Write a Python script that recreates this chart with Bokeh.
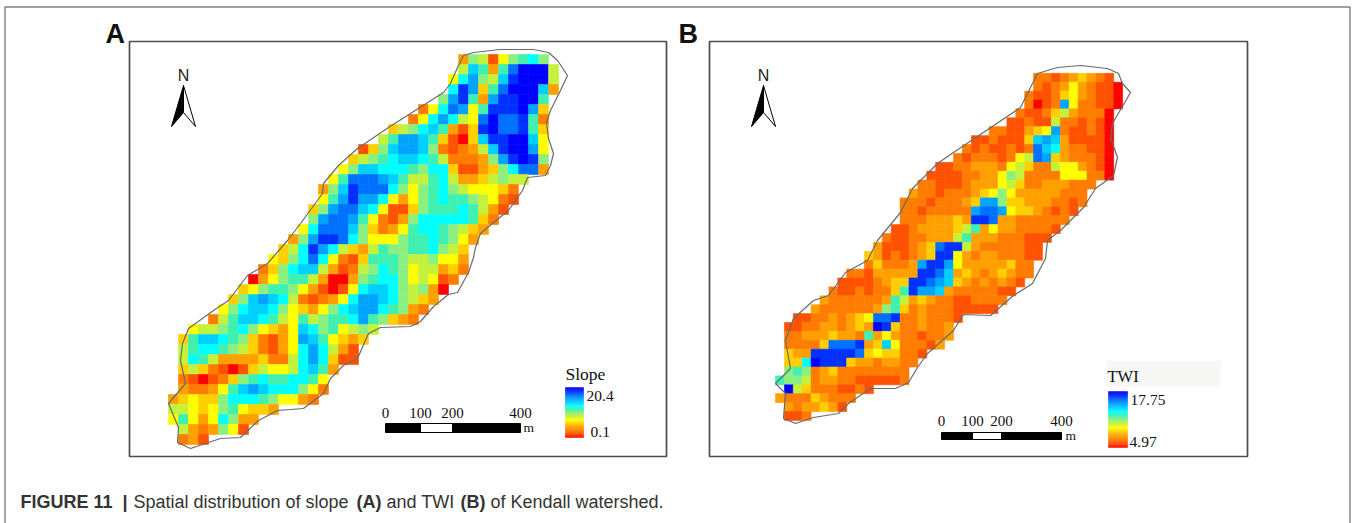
from bokeh.plotting import figure
from bokeh.models import ColumnDataSource, LinearColorMapper
from bokeh.embed import file_html
from bokeh.resources import INLINE
from bokeh.core.properties import value

# class colours, low (red) to high (blue)
ramp = ["#ff0000", "#ff5200", "#ff7c00", "#ffa000", "#ffcf00", "#ffff00", "#c4f23c", "#8cf080",
        "#40f0b0", "#00ffff", "#00d0ff", "#00a4ff", "#0070ff", "#0030ff", "#0000ff"]

slope_starts = [29,29,28,28,27,25,24,22,21,19,18,17,16,15,15,14,14,13,12,11,10,9,8,7,6,5,4,2,1,1,1,1,1,1,0,0,0,1,1]
slope_rows = ["376157897","6a838ceee6","59b76adeee6","9db48ceeea3","7bd83bddee8","259cb58dddeb4",
 "259b965ceccd82","4679a8314deccd84","68bba84104addeea5","147abba721236adeeb5","46789aa98622237bded7",
 "57aa99987994113479cc3","58cccba8668963346766","37adccc9757897655542","58bdbb95357898876521",
 "47bcca95114788898631","7bccb85213799999842","59ccca7423589987643","37bddc9755578898753",
 "469db96436877889764","5479c952148887667553","2479aa631267987566342","035788630037899756512",
 "4578875310159aa976730","47aba96212359bba97643","579aa97543579abb98732","268aa9865867889b87432",
 "56678975435a9785676","48aa98742135ba85434","6899876421359b9631","6986333342269b9411",
 "4642101465569a83","210124789889985","322358aba999752","345447999875532","66545785443",
 "585359733","6323751","231"]

twi_starts = [29,29,28,28,27,26,24,22,21,20,18,17,16,15,14,14,14,13,12,11,10,10,8,7,6,5,4,2,1,1,1,1,1,1,0,1,0,1,1]
twi_rows = ["221234321","2123532110","21124532110","2012b522110","21124632220","112116221210",
 "2211345b211210","1121114aba311110","21211212ca9322110","212221256cb4322210","11223332564226553210",
 "111122335762222555220","22111233356422333222","32212223457533333222","222122234bb7443332212",
 "22122222bccb54432121","22233343ddc33222222","1123333468353322221","2112233368333222111",
 "3111234cdd632222211","43121234dd5323322211","242223bddb533333422","22133333ddca343234322",
 "11112344ddcba43232321","211212248dbba32222211","322222238634322112222","322222237842322211111",
 "112232345ccd2232221","1122332343ed4223223","2233343328353221223","22224cccd34a522213",
 "433dddddc4544221","449eddd43323322","78723422222222","877623322111112","e642221121",
 "322243222","3233431","112"]

slope_outline_x = [463,473,500,533,548,557,567,560,550,546,548,553,550,545,527,522,508,493,480,475,473,468,457,448,433,420,410,380,368,357,343,330,323,303,277,258,240,220,190,177,178,168,185,180,182,188,213,228,247,267,287,300,322,323,338,357,388,443,450,457,463]
slope_outline_y = [55,52,49,49,52,60,75,90,110,122,138,153,165,175,177,190,210,222,233,247,257,272,292,294,306,321,326,327,333,358,365,378,393,408,410,420,437,438,448,442,427,403,383,360,343,328,310,300,275,263,240,223,193,183,165,148,127,92,83,67,55]
twi_outline_x = [1037,1057,1080,1107,1118,1122,1130,1112,1110,1117,1113,1095,1083,1060,1047,1045,1032,1013,990,963,953,927,917,908,895,870,848,838,813,795,783,785,775,790,785,793,813,828,845,867,877,900,912,937,953,1020,1027,1037]
twi_outline_y = [73,67,65,68,73,83,92,123,137,157,175,188,207,230,240,258,283,295,315,314,330,353,367,382,388,388,403,413,417,423,418,393,383,368,340,318,300,295,272,260,240,212,188,163,152,107,93,73]

scale_labels = ["0", "100", "200", "400"]
slope_limits = ["20.4", "0.1"]
twi_limits = ["17.75", "4.97"]

p = figure(width=1363, height=531, x_range=(-8, 1355), y_range=(523, -8), output_backend="svg",
           toolbar_location=None, min_border=0, outline_line_color=None, margin=(-8, -8, -8, -8))
p.axis.visible = False
p.grid.visible = False

mapper = LinearColorMapper(palette=ramp, low=-0.5, high=14.5)

def raster(starts, rows, x0, y0, d):
    L, R, T, B, V = [], [], [], [], []
    for r, (s, row) in enumerate(zip(starts, rows)):
        for i, ch in enumerate(row):
            c = s + i
            L.append(x0 + c * d); R.append(x0 + (c + 1) * d)
            T.append(y0 + r * d); B.append(y0 + (r + 1) * d)
            V.append(int(ch, 16))
    src = ColumnDataSource(dict(l=L, r=R, t=T, b=B, v=V))
    tr = {"field": "v", "transform": mapper}
    p.quad(left="l", right="r", top="t", bottom="b", source=src, fill_color=tr, line_color=tr, line_width=0.6)

raster(slope_starts, slope_rows, 168, 54, 10.0)
raster(twi_starts, twi_rows, 775, 72.8, 8.9)

p.line(slope_outline_x, slope_outline_y, line_color="#6a6a6a", line_width=1.2)
p.line(twi_outline_x, twi_outline_y, line_color="#6a6a6a", line_width=1.2)

# frames
for l, r in ((129, 666), (709, 1247)):
    p.quad(left=[l], right=[r], top=[41], bottom=[456], fill_color=None, line_color="#4d4d4d", line_width=1.7)
# outer rules
p.line([4.5, 4.5, 1349.5, 1349.5], [523, 6.5, 6.5, 523], line_color="#808080", line_width=1.4)

def txt(x, y, s, size, font="Liberation Serif", style="normal", align="left", color="#111111"):
    p.text([x], [y], text=[s], text_font=value(font), text_font_size=f"{size}px", text_font_style=style,
           text_align=align, text_baseline="middle", text_color=color)

txt(105, 33, "A", 27, "Liberation Sans", "bold")
txt(678, 33, "B", 27, "Liberation Sans", "bold")

# north arrows
for dx, ny in ((0, 75), (580, 75)):
    txt(183 + dx, ny, "N", 16, "Liberation Sans", align="center", color="#222222")
    p.patch([183 + dx, 171 + dx, 183 + dx], [85, 126, 112], fill_color="#000000", line_color="#000000", line_width=1)
    p.patch([183 + dx, 195 + dx, 183 + dx], [85, 126, 112], fill_color="#ffffff", line_color="#000000", line_width=1)

# scale bars
def scalebar(xs, y0, y1, ty, mx, my):
    for i in range(3):
        fc = "#ffffff" if i == 1 else "#000000"
        p.quad(left=[xs[i]], right=[xs[i + 1]], top=[y0], bottom=[y1], fill_color=fc, line_color="#000000", line_width=1)
    for x, s in zip(xs, scale_labels):
        txt(x, ty, s, 15, align="center")
    txt(mx, my, "m", 13.5)

scalebar([385, 420, 452, 520], 423, 432, 412, 523, 427)
scalebar([941, 972, 1001, 1061], 432, 439, 420, 1065, 435)

# colour ramps, bottom red to top blue, blended between the class colours
def blended(sub=5):
    rgb = [tuple(int(h[i:i + 2], 16) for i in (1, 3, 5)) for h in ramp]
    out = []
    for a, b in zip(rgb, rgb[1:]):
        for k in range(sub):
            t = k / sub
            out.append("#%02x%02x%02x" % tuple(round(u + (v - u) * t) for u, v in zip(a, b)))
    out.append(ramp[-1])
    return out

def cbar(x0, x1, y0, y1):
    cols = blended()
    n = len(cols)
    h = (y1 - y0) / n
    ys = [y1 - i * h for i in range(n)]
    p.quad(left=[x0] * n, right=[x1] * n, bottom=ys, top=[y - h for y in ys], fill_color=cols, line_color=cols, line_width=0.4)

txt(565, 373, "Slope", 17.5)
cbar(565, 583, 387, 437)
txt(586, 395, slope_limits[0], 15.5)
txt(590, 431, slope_limits[1], 15.5)

p.quad(left=[1106], right=[1220], top=[360], bottom=[386], fill_color="#f7f7f5", line_color=None)
txt(1107, 376, "TWI", 16.5)
cbar(1108, 1127, 391, 447)
txt(1130, 399, twi_limits[0], 15.5)
txt(1129, 441, twi_limits[1], 15.5)

# caption
cy = 501
for x, s, st in ((20, "FIGURE 11", "bold"), (122, "|", "bold"), (133, "Spatial distribution of slope", "normal"),
                 (356, "(A)", "bold"), (386, "and TWI", "normal"), (460, "(B)", "bold"),
                 (490, "of Kendall watershed.", "normal")):
    txt(x, cy, s, 18, "Liberation Sans", st, color="#333333")

open("out.html", "w").write(file_html(p, INLINE))
